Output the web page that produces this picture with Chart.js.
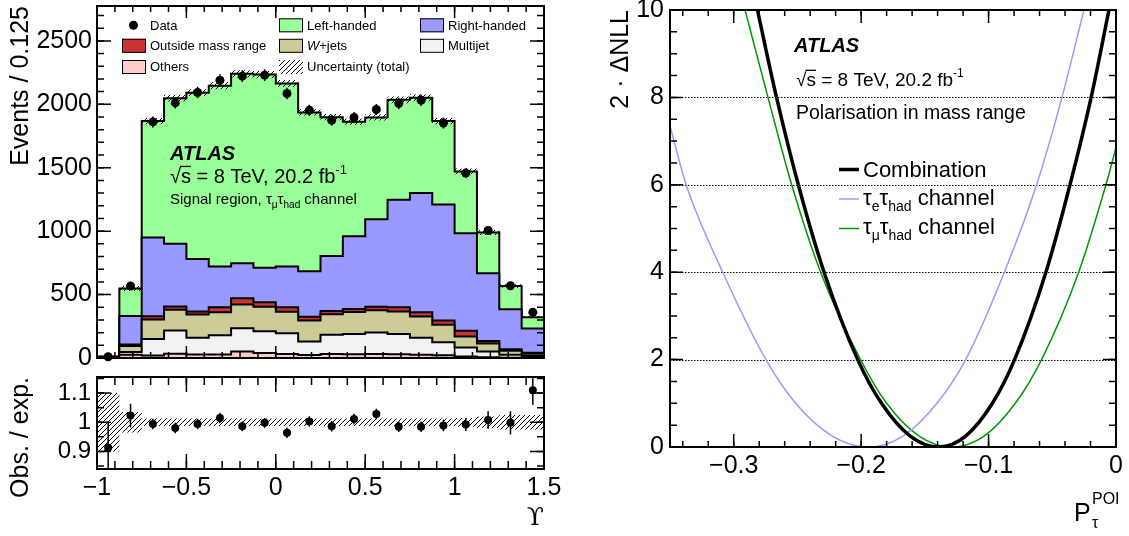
<!DOCTYPE html>
<html>
<head>
<meta charset="utf-8">
<script src="https://cdn.jsdelivr.net/npm/chart.js@4.4.1/dist/chart.umd.min.js"></script>
<style>
html, body { margin: 0; padding: 0; background: #fff; }
#wrap { position: relative; width: 1129px; height: 536px; overflow: hidden; background: #fff; }
canvas { position: absolute; }
</style>
</head>
<body>
<div id="wrap">
  <canvas id="top" width="575" height="372" style="left:0;top:0"></canvas>
  <canvas id="ratio" width="575" height="166" style="left:0;top:370px"></canvas>
  <canvas id="nll" width="549" height="536" style="left:580px;top:0"></canvas>
</div>
<script>
const SANS = '"Liberation Sans", Arial, Helvetica, sans-serif';
const SERIF = '"DejaVu Serif", "Liberation Serif", serif';

// Upsilon binning (20 bins of 0.125)
const binEdges = [-1, -0.875, -0.75, -0.625, -0.5, -0.375, -0.25, -0.125, 0, 0.125, 0.25,
                  0.375, 0.5, 0.625, 0.75, 0.875, 1, 1.125, 1.25, 1.375, 1.5];

// stacked contributions, bottom to top
const others      = [2, 26, 20, 34, 27, 28, 51, 40, 31, 23, 31, 30, 31, 29, 25, 22, 12, 5, 2, 2];
const multijet    = [3, 22, 130, 182, 133, 152, 183, 170, 164, 108, 153, 159, 171, 161, 135, 102, 70, 47, 24, 13];
const wjets       = [2, 47, 154, 164, 183, 180, 187, 195, 170, 164, 161, 173, 174, 176, 168, 139, 88, 63, 31, 18];
const outsideMass = [1, 11, 26, 26, 23, 40, 51, 34, 35, 31, 25, 24, 29, 34, 32, 32, 44, 19, 11, 8];
const rightHanded = [2, 225, 620, 494, 414, 322, 275, 272, 321, 358, 435, 574, 689, 848, 940, 916, 770, 534, 316, 191];
const leftHanded  = [1, 217, 918, 1148, 1312, 1425, 1493, 1523, 1443, 1252, 1093, 903, 802, 787, 751, 657, 487, 322, 184, 89];

const dataCounts = [10, 568, 1861, 2011, 2093, 2190, 2222, 2230, 2085, 1953, 1874, 1896, 1959, 2006, 2032, 1853, 1458, 1005, 570, 360];
const dataErr    = [3, 24, 43, 45, 46, 47, 47, 47, 46, 44, 43, 44, 44, 45, 45, 43, 38, 32, 24, 19];
// total relative uncertainty of the expectation
const uncRel     = [0.1, 0.035, 0.013, 0.013, 0.013, 0.013, 0.013, 0.013, 0.013, 0.013, 0.013, 0.013, 0.013, 0.013, 0.013, 0.013, 0.015, 0.02, 0.025, 0.025];

// Obs. / exp.
const ratioObs = [0.913, 1.023, 0.994, 0.980, 0.994, 1.015, 0.986, 0.998, 0.964, 1.003, 0.986, 1.011, 1.028, 0.985, 0.985, 0.989, 0.992, 1.008, 0.998, 1.11];
const ratioErr = [0.09, 0.04, 0.018, 0.018, 0.018, 0.018, 0.017, 0.017, 0.018, 0.018, 0.018, 0.018, 0.018, 0.018, 0.018, 0.02, 0.022, 0.03, 0.04, 0.05];

// 2 dNLL scans
const combX = [-0.2814, -0.2664, -0.2493, -0.2291, -0.2027, -0.184, -0.1615, -0.139, -0.118, -0.097, -0.0796, -0.055, -0.0361, -0.0195, -0.0055];
const combY = [10, 8, 6, 4, 2, 1, 0.25, 0, 0.25, 1, 2, 4, 6, 8, 10];
const elecX = [-0.35, -0.3373, -0.3086, -0.2747, -0.2514, -0.2227, -0.194, -0.1672, -0.1405, -0.118, -0.0876, -0.0623, -0.0424, -0.0252];
const elecY = [7.35, 6, 4, 2, 1, 0.25, 0, 0.25, 1, 2, 4, 6, 8, 10];
const muX   = [-0.2911, -0.2731, -0.2545, -0.2318, -0.2005, -0.18, -0.1545, -0.129, -0.1035, -0.079, -0.0584, -0.0293, -0.0079, 0];
const muY   = [10, 8, 6, 4, 2, 1, 0.25, 0, 0.25, 1, 2, 4, 6, 6.85];

// tick labels
const eventTicks = [0, 500, 1000, 1500, 2000, 2500];
const upsTicks   = [-1, -0.5, 0, 0.5, 1, 1.5];
const ratioTicks = [0.9, 1, 1.1];
const polTicks   = [-0.3, -0.2, -0.1, 0];
const nllTicks   = [0, 2, 4, 6, 8, 10];

const colors = {
  others: '#ffcccc', multijet: '#f2f2f2', wjets: '#cccc99', outside: '#cc3333',
  right: '#9999ff', left: '#99ff99', elec: '#9999ff', mu: '#009900'
};

// ---------- helpers ----------
function fmtTick(v) {
  const r = Math.round(v * 1000) / 1000;
  return (r < 0 ? '\u2212' : '') + Math.abs(r).toString();
}

function setTicks(vals) {
  return s => { s.ticks = vals.map(v => ({value: v})); };
}

function fixSize(w, h) {
  return s => {
    if (w !== null) s.width = w;
    if (h !== null) s.height = h;
    s.paddingTop = 0; s.paddingBottom = 0; s.paddingLeft = 0; s.paddingRight = 0;
  };
}

function stepPoints(vals) {
  const pts = vals.map((v, i) => ({x: binEdges[i], y: v}));
  pts.push({x: binEdges[vals.length], y: vals[vals.length - 1]});
  return pts;
}

function binCentres() {
  return binEdges.slice(0, -1).map((e, i) => (e + binEdges[i + 1]) / 2);
}

function hatchPattern() {
  const c = document.createElement('canvas');
  c.width = 5; c.height = 5;
  const g = c.getContext('2d');
  g.strokeStyle = '#000';
  g.lineWidth = 1;
  g.beginPath();
  g.moveTo(-1, 6); g.lineTo(6, -1);
  g.moveTo(-3, 3); g.lineTo(3, -3);
  g.moveTo(2, 8); g.lineTo(8, 2);
  g.stroke();
  return g.createPattern(c, 'repeat');
}
const HATCH = hatchPattern();

function drawRich(ctx, x, y, parts) {
  let cx = x;
  parts.forEach(p => {
    ctx.font = (p.w || '') + ' ' + p.s + 'px ' + (p.f || SANS);
    const w = ctx.measureText(p.t).width;
    ctx.fillText(p.t, cx, y + (p.dy || 0));
    if (p.over) ctx.fillRect(cx - 1, y - p.s * 0.86, w + 1, 1.3);
    cx += w + (p.dx || 0);
  });
  return cx;
}

function axisTicks(ctx, scale, area, step, len, isX) {
  const k0 = Math.ceil(scale.min / step - 1e-6);
  const k1 = Math.floor(scale.max / step + 1e-6);
  ctx.beginPath();
  for (let k = k0; k <= k1; k++) {
    const p = scale.getPixelForValue(k * step);
    if (isX) {
      ctx.moveTo(p, area.bottom); ctx.lineTo(p, area.bottom - len);
      ctx.moveTo(p, area.top); ctx.lineTo(p, area.top + len);
    } else {
      ctx.moveTo(area.left, p); ctx.lineTo(area.left + len, p);
      ctx.moveTo(area.right, p); ctx.lineTo(area.right - len, p);
    }
  }
  ctx.stroke();
}

function framePlugin(t) {
  return {
    id: 'frame',
    afterDatasetsDraw(chart) {
      const ctx = chart.ctx, a = chart.chartArea;
      ctx.save();
      ctx.strokeStyle = '#000';
      ctx.lineWidth = 1.5;
      axisTicks(ctx, chart.scales.x, a, t.xMinor, t.xMinorLen, true);
      axisTicks(ctx, chart.scales.x, a, t.xMajor, t.xMajorLen, true);
      axisTicks(ctx, chart.scales.y, a, t.yMinor, t.yMinorLen, false);
      axisTicks(ctx, chart.scales.y, a, t.yMajor, t.yMajorLen, false);
      ctx.lineWidth = 2;
      ctx.strokeRect(a.left, a.top, a.right - a.left, a.bottom - a.top);
      ctx.restore();
    }
  };
}

function errorBarPlugin(centres, vals, errs) {
  return {
    id: 'errbars',
    afterDatasetsDraw(chart) {
      const ctx = chart.ctx, a = chart.chartArea;
      const xs = chart.scales.x, ys = chart.scales.y;
      ctx.save();
      ctx.beginPath();
      ctx.rect(a.left, a.top, a.right - a.left, a.bottom - a.top);
      ctx.clip();
      ctx.strokeStyle = '#000';
      ctx.lineWidth = 1.5;
      ctx.beginPath();
      centres.forEach((c, i) => {
        const px = xs.getPixelForValue(c);
        ctx.moveTo(px, ys.getPixelForValue(vals[i] - errs[i]));
        ctx.lineTo(px, ys.getPixelForValue(vals[i] + errs[i]));
      });
      ctx.stroke();
      ctx.restore();
    }
  };
}

function noGrid() {
  return {display: false, drawTicks: false};
}

// ---------- top panel ----------
const stackInputs = [others, multijet, wjets, outsideMass, rightHanded, leftHanded];
const stackColors = [colors.others, colors.multijet, colors.wjets, colors.outside, colors.right, colors.left];
const cumulative = [];
let running = new Array(dataCounts.length).fill(0);
stackInputs.forEach(arr => {
  running = running.map((v, i) => v + arr[i]);
  cumulative.push(running);
});
const totalExp = cumulative[cumulative.length - 1];
const bandLo = totalExp.map((v, i) => v * (1 - uncRel[i]));
const bandHi = totalExp.map((v, i) => v * (1 + uncRel[i]));
const centres = binCentres();

const topSets = cumulative.map((vals, i) => ({
  data: stepPoints(vals),
  stepped: true,
  borderColor: '#000',
  borderWidth: 2,
  backgroundColor: stackColors[i],
  fill: i === 0 ? 'origin' : '-1',
  pointRadius: 0,
  order: 2
}));
topSets.push({
  data: stepPoints(bandLo), stepped: true, borderColor: 'rgba(0,0,0,0)', borderWidth: 0,
  fill: false, pointRadius: 0, order: 1
});
topSets.push({
  data: stepPoints(bandHi), stepped: true, borderColor: 'rgba(0,0,0,0)', borderWidth: 0,
  backgroundColor: HATCH, fill: 6, pointRadius: 0, order: 1
});
topSets.push({
  data: dataCounts.map((v, i) => ({x: centres[i], y: v})),
  showLine: false, pointRadius: 4.5, pointBackgroundColor: '#000', pointBorderWidth: 0,
  clip: false, order: 0
});

const topLegend = {
  id: 'topLegend',
  afterDatasetsDraw(chart) {
    const ctx = chart.ctx;
    ctx.save();
    ctx.textAlign = 'left';
    ctx.textBaseline = 'alphabetic';
    const box = (x, yc, col) => {
      ctx.fillStyle = col;
      ctx.fillRect(x, yc - 7, 24, 14);
      ctx.strokeStyle = '#000';
      ctx.lineWidth = 1;
      ctx.strokeRect(x + 0.5, yc - 6.5, 23, 13);
    };
    // column 1
    ctx.beginPath(); ctx.fillStyle = '#000';
    ctx.arc(133.5, 25.3, 4.5, 0, Math.PI * 2); ctx.fill();
    box(122, 45.8, colors.outside);
    box(122, 67, colors.others);
    // column 2
    box(279, 25.3, colors.left);
    box(279, 45.8, colors.wjets);
    ctx.fillStyle = HATCH;
    ctx.fillRect(279, 60, 24, 14);
    // column 3
    box(420, 25.3, colors.right);
    box(420, 45.8, colors.multijet);

    ctx.fillStyle = '#000';
    ctx.font = '13px ' + SANS;
    ctx.fillText('Data', 150, 29.8);
    ctx.fillText('Outside mass range', 150, 50.2);
    ctx.fillText('Others', 150, 71);
    ctx.fillText('Left-handed', 307, 29.8);
    drawRich(ctx, 307, 50.2, [{t: 'W', s: 13, w: 'italic'}, {t: '+jets', s: 13}]);
    ctx.font = '13px ' + SANS;
    ctx.fillText('Uncertainty (total)', 307, 71);
    ctx.fillText('Right-handed', 448, 29.8);
    ctx.fillText('Multijet', 448, 50.2);

    // ATLAS label block
    ctx.font = 'italic bold 20px ' + SANS;
    ctx.fillText('ATLAS', 170, 160);
    drawRich(ctx, 170, 183, [
      {t: '\u221a', s: 20}, {t: 's', s: 20, over: true}, {t: ' = 8 TeV, 20.2 fb', s: 20}, {t: '-1', s: 13, dy: -9}
    ]);
    drawRich(ctx, 170, 203.5, [
      {t: 'Signal region, ', s: 15}, {t: '\u03c4', s: 15}, {t: '\u03bc', s: 10, dy: 4},
      {t: '\u03c4', s: 15}, {t: 'had', s: 10, dy: 4}, {t: ' channel', s: 15}
    ]);
    ctx.restore();
  }
};

new Chart(document.getElementById('top'), {
  type: 'line',
  data: {datasets: topSets},
  options: {
    responsive: false,
    animation: false,
    events: [],
    layout: {padding: {left: 0, right: 31, top: 6, bottom: 0}},
    plugins: {legend: {display: false}, tooltip: {enabled: false}},
    scales: {
      x: {
        type: 'linear', min: -1, max: 1.5,
        grid: noGrid(), border: {display: false},
        ticks: {display: false},
        afterBuildTicks: setTicks(upsTicks),
        afterFit: fixSize(null, 14)
      },
      y: {
        type: 'linear', min: 0, max: 2775,
        grid: noGrid(), border: {display: false},
        ticks: {
          color: '#000', padding: 5, autoSkip: false,
          font: {family: SANS, size: 25}, callback: v => fmtTick(v)
        },
        afterBuildTicks: setTicks(eventTicks),
        title: {
          display: true, text: 'Events / 0.125', align: 'end', color: '#000',
          font: {family: SANS, size: 25, lineHeight: 1.2}, padding: {top: 6, bottom: 0}
        },
        afterFit: fixSize(97, null)
      }
    }
  },
  plugins: [
    errorBarPlugin(centres, dataCounts, dataErr),
    framePlugin({xMajor: 0.5, xMinor: 0.1, xMajorLen: 12, xMinorLen: 6,
                 yMajor: 500, yMinor: 100, yMajorLen: 14, yMinorLen: 7}),
    topLegend
  ]
});

// ---------- ratio panel ----------
const ratioLo = uncRel.map(u => 1 - u);
const ratioHi = uncRel.map(u => 1 + u);

new Chart(document.getElementById('ratio'), {
  type: 'line',
  data: {
    datasets: [
      {data: stepPoints(ratioLo), stepped: true, borderColor: 'rgba(0,0,0,0)', borderWidth: 0, fill: false, pointRadius: 0},
      {data: stepPoints(ratioHi), stepped: true, borderColor: 'rgba(0,0,0,0)', borderWidth: 0,
       backgroundColor: HATCH, fill: 0, pointRadius: 0},
      {data: ratioObs.map((v, i) => ({x: centres[i], y: v})), showLine: false, pointRadius: 4,
       pointBackgroundColor: '#000', pointBorderWidth: 0, clip: false}
    ]
  },
  options: {
    responsive: false,
    animation: false,
    events: [],
    layout: {padding: {left: 0, right: 31, top: 7, bottom: 0}},
    plugins: {legend: {display: false}, tooltip: {enabled: false}},
    scales: {
      x: {
        type: 'linear', min: -1, max: 1.5,
        grid: noGrid(), border: {display: false},
        ticks: {
          color: '#000', padding: 4, maxRotation: 0, autoSkip: false,
          font: {family: SANS, size: 25}, callback: v => fmtTick(v)
        },
        afterBuildTicks: setTicks(upsTicks),
        title: {
          display: true, text: '\u03d2', align: 'end', color: '#000',
          font: {family: SERIF, size: 25, lineHeight: 1.2}, padding: {top: 0, bottom: 3}
        },
        afterFit: fixSize(null, 67)
      },
      y: {
        type: 'linear', min: 0.84, max: 1.155,
        grid: noGrid(), border: {display: false},
        ticks: {
          color: '#000', padding: 6, autoSkip: false,
          font: {family: SANS, size: 24}, callback: v => fmtTick(v)
        },
        afterBuildTicks: setTicks(ratioTicks),
        title: {
          display: true, text: 'Obs. / exp.', align: 'end', color: '#000',
          font: {family: SANS, size: 25, lineHeight: 1.2}, padding: {top: 6, bottom: 0}
        },
        afterFit: fixSize(97, null)
      }
    }
  },
  plugins: [
    errorBarPlugin(centres, ratioObs, ratioErr),
    framePlugin({xMajor: 0.5, xMinor: 0.1, xMajorLen: 15, xMinorLen: 8,
                 yMajor: 0.1, yMinor: 0.05, yMajorLen: 14, yMinorLen: 7})
  ]
});

// ---------- NLL scan panel ----------
const toPts = (xs, ys) => xs.map((x, i) => ({x: x, y: ys[i]}));

const nllDecor = {
  id: 'nllDecor',
  beforeDatasetsDraw(chart) {
    const ctx = chart.ctx, a = chart.chartArea, ys = chart.scales.y;
    ctx.save();
    ctx.strokeStyle = '#000';
    ctx.lineWidth = 1;
    ctx.setLineDash([1.5, 1.5]);
    ys.ticks.forEach(t => {
      if (t.value <= ys.min || t.value >= ys.max) return;
      const p = Math.round(ys.getPixelForValue(t.value)) + 0.5;
      ctx.beginPath(); ctx.moveTo(a.left, p); ctx.lineTo(a.right, p); ctx.stroke();
    });
    ctx.restore();
  },
  afterDatasetsDraw(chart) {
    const ctx = chart.ctx;
    ctx.save();
    ctx.textAlign = 'left';
    ctx.textBaseline = 'alphabetic';
    ctx.fillStyle = '#000';
    ctx.font = 'italic bold 20px ' + SANS;
    ctx.fillText('ATLAS', 214, 51.5);
    drawRich(ctx, 216, 86, [
      {t: '\u221a', s: 19}, {t: 's', s: 19, over: true}, {t: ' = 8 TeV, 20.2 fb', s: 19}, {t: '-1', s: 12, dy: -9}
    ]);
    ctx.font = '19.5px ' + SANS;
    ctx.fillText('Polarisation in mass range', 216, 118.5);

    // legend
    const rows = [
      {y: 169.5, col: '#000', w: 3.5},
      {y: 199, col: colors.elec, w: 1.5},
      {y: 228.5, col: colors.mu, w: 1.5}
    ];
    rows.forEach(r => {
      ctx.strokeStyle = r.col; ctx.lineWidth = r.w;
      ctx.beginPath(); ctx.moveTo(259, r.y); ctx.lineTo(279, r.y); ctx.stroke();
    });
    ctx.font = '22px ' + SANS;
    ctx.fillText('Combination', 283, 176.5);
    drawRich(ctx, 283, 205, [
      {t: '\u03c4', s: 22}, {t: 'e', s: 14, dy: 6}, {t: '\u03c4', s: 22}, {t: 'had', s: 14, dy: 6}, {t: ' channel', s: 22}
    ]);
    drawRich(ctx, 283, 234, [
      {t: '\u03c4', s: 22}, {t: '\u03bc', s: 14, dy: 6}, {t: '\u03c4', s: 22}, {t: 'had', s: 14, dy: 6}, {t: ' channel', s: 22}
    ]);

    // x-axis title P_tau^POI
    ctx.font = '25px ' + SANS;
    ctx.fillText('P', 494, 521);
    ctx.font = '16px ' + SANS;
    ctx.fillText('POI', 512, 504);
    ctx.fillText('\u03c4', 512, 528);
    ctx.restore();
  }
};

new Chart(document.getElementById('nll'), {
  type: 'line',
  data: {
    datasets: [
      {data: toPts(combX, combY), borderColor: '#000', borderWidth: 3.5, pointRadius: 0,
       cubicInterpolationMode: 'monotone', fill: false},
      {data: toPts(elecX, elecY), borderColor: colors.elec, borderWidth: 1.5, pointRadius: 0,
       cubicInterpolationMode: 'monotone', fill: false},
      {data: toPts(muX, muY), borderColor: colors.mu, borderWidth: 1.5, pointRadius: 0,
       cubicInterpolationMode: 'monotone', fill: false}
    ]
  },
  options: {
    responsive: false,
    animation: false,
    events: [],
    layout: {padding: {left: 0, right: 13, top: 10, bottom: 0}},
    plugins: {legend: {display: false}, tooltip: {enabled: false}},
    scales: {
      x: {
        type: 'linear', min: -0.35, max: 0,
        grid: noGrid(), border: {display: false},
        ticks: {
          color: '#000', padding: 4, maxRotation: 0, autoSkip: false,
          font: {family: SANS, size: 25}, callback: v => fmtTick(v)
        },
        afterBuildTicks: setTicks(polTicks),
        afterFit: fixSize(null, 89)
      },
      y: {
        type: 'linear', min: 0, max: 10,
        grid: noGrid(), border: {display: false},
        ticks: {
          color: '#000', padding: 6, autoSkip: false,
          font: {family: SANS, size: 25}, callback: v => fmtTick(v)
        },
        afterBuildTicks: setTicks(nllTicks),
        title: {
          display: true, text: '2 \u00b7 \u0394NLL', align: 'end', color: '#000',
          font: {family: SANS, size: 25, lineHeight: 1.2}, padding: {top: 26, bottom: 0}
        },
        afterFit: fixSize(90, null)
      }
    }
  },
  plugins: [
    nllDecor,
    framePlugin({xMajor: 0.1, xMinor: 0.02, xMajorLen: 13, xMinorLen: 6,
                 yMajor: 2, yMinor: 0.5, yMajorLen: 13, yMinorLen: 7})
  ]
});
</script>
</body>
</html>
